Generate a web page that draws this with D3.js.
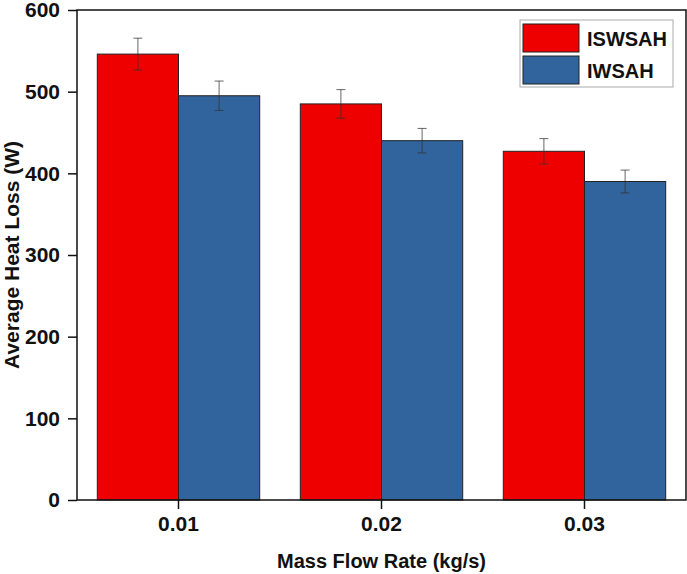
<!DOCTYPE html>
<html lang="en">
<head>
    <meta charset="UTF-8">
    <title>Average Heat Loss</title>
    <script src="https://d3js.org/d3.v7.min.js"></script>
    <style>
        body { margin: 0; background: #fff; }
        text { font-family: "Liberation Sans", Arial, sans-serif; font-weight: bold; fill: #111; }
        .axis path, .axis line { stroke: #111; stroke-width: 1.5px; }
        .axis text { font-size: 21px; }
    </style>
</head>
<body>
    <div id="chart"></div>

    <script>
        // data
        const categories = ['0.01', '0.02', '0.03'];
        const seriesNames = ['ISWSAH', 'IWSAH'];
        const iswsah = [546, 485, 427];
        const iwsah = [495, 440, 390];
        const iswsahErr = [19.5, 17.5, 15.5];
        const iwsahErr = [18, 15, 14];
        const yTicks = [0, 100, 200, 300, 400, 500, 600];

        const colors = { ISWSAH: '#ee0000', IWSAH: '#31639c' };

        const width = 687, height = 574;
        const margin = { top: 10, right: 1, bottom: 74, left: 77 };

        const svg = d3.select('#chart')
                      .append('svg')
                      .attr('width', width)
                      .attr('height', height);

        const x = d3.scaleBand()
                    .domain(categories)
                    .range([margin.left, width - margin.right])
                    .paddingInner(0.2)
                    .paddingOuter(0.1);

        const xSub = d3.scaleBand()
                       .domain(seriesNames)
                       .range([0, x.bandwidth()]);

        const y = d3.scaleLinear()
                    .domain([0, 600])
                    .range([height - margin.bottom, margin.top]);

        const rows = categories.map((c, i) => ({
            cat: c,
            values: [
                { name: 'ISWSAH', v: iswsah[i], e: iswsahErr[i] },
                { name: 'IWSAH', v: iwsah[i], e: iwsahErr[i] }
            ]
        }));

        const groups = svg.append('g')
                          .selectAll('g')
                          .data(rows)
                          .enter().append('g')
                          .attr('transform', d => `translate(${x(d.cat)},0)`);

        groups.selectAll('rect')
              .data(d => d.values)
              .enter().append('rect')
              .attr('x', d => xSub(d.name))
              .attr('y', d => y(d.v))
              .attr('width', xSub.bandwidth())
              .attr('height', d => y(0) - y(d.v))
              .attr('fill', d => colors[d.name])
              .attr('stroke', '#222')
              .attr('stroke-width', 1);

        // error bars
        const err = groups.selectAll('g.err')
                          .data(d => d.values)
                          .enter().append('g')
                          .attr('class', 'err')
                          .attr('stroke', '#333')
                          .attr('stroke-opacity', 0.75)
                          .attr('stroke-width', 1);

        const cx = d => xSub(d.name) + xSub.bandwidth() / 2;
        err.append('line')
           .attr('x1', cx).attr('x2', cx)
           .attr('y1', d => y(d.v + d.e)).attr('y2', d => y(d.v - d.e));
        err.append('line')
           .attr('x1', d => cx(d) - 4.5).attr('x2', d => cx(d) + 4.5)
           .attr('y1', d => y(d.v + d.e)).attr('y2', d => y(d.v + d.e));
        err.append('line')
           .attr('x1', d => cx(d) - 4.5).attr('x2', d => cx(d) + 4.5)
           .attr('y1', d => y(d.v - d.e)).attr('y2', d => y(d.v - d.e));

        // frame
        svg.append('rect')
           .attr('x', margin.left)
           .attr('y', margin.top)
           .attr('width', width - margin.right - margin.left)
           .attr('height', y(0) - margin.top)
           .attr('fill', 'none')
           .attr('stroke', '#111')
           .attr('stroke-width', 1.5);

        svg.append('g')
           .attr('class', 'axis')
           .attr('transform', `translate(0,${y(0)})`)
           .call(d3.axisBottom(x).tickSize(9).tickPadding(7).tickSizeOuter(0))
           .call(g => g.select('.domain').remove());

        svg.append('g')
           .attr('class', 'axis')
           .attr('transform', `translate(${margin.left},0)`)
           .call(d3.axisLeft(y).tickValues(yTicks).tickSize(9).tickPadding(8).tickSizeOuter(0))
           .call(g => g.select('.domain').remove());

        // axis titles
        svg.append('text')
           .attr('x', (margin.left + width - margin.right) / 2)
           .attr('y', 568)
           .attr('text-anchor', 'middle')
           .style('font-size', '20px')
           .text('Mass Flow Rate (kg/s)');

        svg.append('text')
           .attr('transform', `translate(19,${(margin.top + y(0)) / 2}) rotate(-90)`)
           .attr('text-anchor', 'middle')
           .style('font-size', '21px')
           .text('Average Heat Loss (W)');

        // legend
        const legend = svg.append('g').attr('transform', 'translate(520,20)');
        legend.append('rect')
              .attr('width', 153).attr('height', 67)
              .attr('fill', '#fff')
              .attr('stroke', '#aaa')
              .attr('stroke-width', 1);

        const item = legend.selectAll('g')
                           .data(seriesNames)
                           .enter().append('g')
                           .attr('transform', (d, i) => `translate(3,${4 + i * 32})`);
        item.append('rect')
            .attr('width', 56).attr('height', 28)
            .attr('fill', d => colors[d])
            .attr('stroke', '#222');
        item.append('text')
            .attr('x', 64).attr('y', 22)
            .style('font-size', '20px')
            .text(d => d);
    </script>
</body>
</html>
